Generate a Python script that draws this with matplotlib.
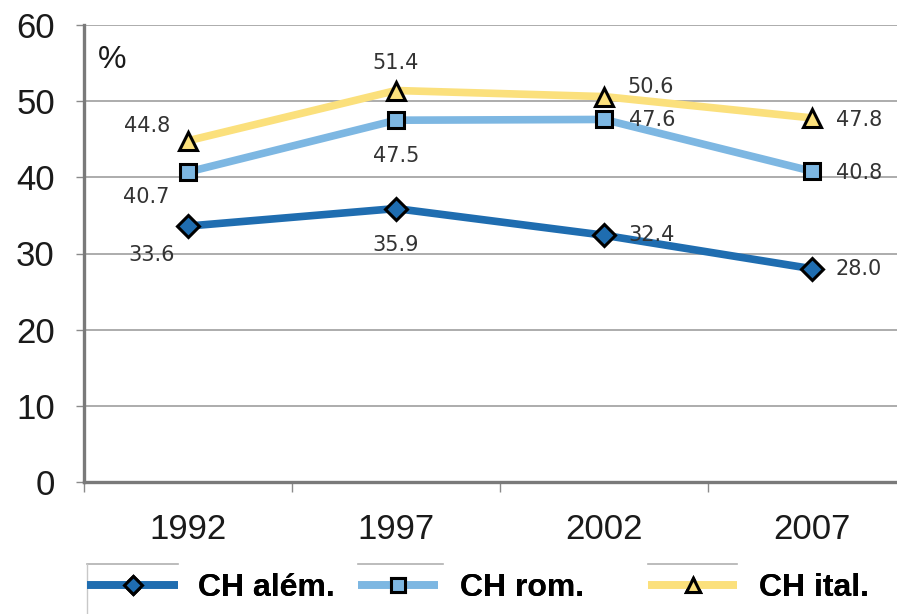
import matplotlib
matplotlib.use("Agg")
import matplotlib.pyplot as plt
from matplotlib.lines import Line2D
import numpy as np

plt.rcParams['font.family'] = ['Liberation Sans', 'DejaVu Sans']

# data
years = ['1992', '1997', '2002', '2007']
alem = [33.6, 35.9, 32.4, 28.0]
rom = [40.7, 47.5, 47.6, 40.8]
ital = [44.8, 51.4, 50.6, 47.8]
labels = ['CH além.', 'CH rom.', 'CH ital.']

# label offsets in pixels (dx, dy up) for each point
off_alem = [(-36, -29), (0, -36), (48, 0), (47, 0)]
off_rom = [(-42, -25), (0, -36), (48, -1), (47, -2)]
off_ital = [(-41, 15), (0, 28), (47, 10), (47, -2)]

col_alem = '#1f6db0'
col_rom = '#7db7e2'
col_ital = '#fbe07c'

W, H = 897, 614
fig = plt.figure(figsize=(W / 100, H / 100), dpi=100)
ax = fig.add_axes([84 / W, 1 - 482 / H, 832 / W, 457 / H])

x = np.arange(len(years))
series = [
    (alem, col_alem, 'D', 11, off_alem),
    (rom, col_rom, 's', 11.5, off_rom),
    (ital, col_ital, '^', 12.5, off_ital),
]
handles = []
for (vals, col, mk, ms, offs), lab in zip(series, labels):
    h, = ax.plot(x, vals, color=col, lw=5.5, marker=mk, ms=ms,
                 mfc=col, mec='black', mew=2.2, zorder=3,
                 solid_capstyle='butt', label=lab)
    handles.append(h)
    for xi, v, (dx, dy) in zip(x, vals, offs):
        ax.annotate(f'{v:.1f}', (xi, v), xytext=(dx * 0.72, dy * 0.72),
                    textcoords='offset points', ha='center', va='center',
                    fontsize=15, color='#333333', family='DejaVu Sans',
                    zorder=4)

ax.set_xlim(-0.5, 3.5)
ax.set_ylim(0, 60)
ax.set_yticks(np.arange(0, 61, 10))
ax.set_xticks(x)
ax.set_xticklabels(years)
ax.set_xticks(np.arange(-0.5, 4, 1), minor=True)
ax.grid(axis='y', color='#a6a6a6', lw=1.3, zorder=0)
for s in ['top', 'right']:
    ax.spines[s].set_visible(False)
for s in ['left', 'bottom']:
    ax.spines[s].set_color('#7a7a7a')
    ax.spines[s].set_linewidth(2.4)
ax.tick_params(axis='y', length=6, width=1, color='#8a8a8a', pad=15,
               labelsize=25, labelcolor='#1a1a1a')
ax.tick_params(axis='x', which='major', length=0, pad=22,
               labelsize=25, labelcolor='#1a1a1a')
ax.tick_params(axis='x', which='minor', length=7, width=1, color='#8a8a8a')

fig.text(98 / W, 1 - 60 / H, '%', fontsize=23, color='#1a1a1a',
         ha='left', va='center')

# legend, three separate boxes
leg_pos = [(87, 588, 2.85, 0.63), (358, 588, 2.5, 0.69), (648, 588, 2.8, 0.66)]
line_pos = [(87, 178), (358, 443), (648, 737)]
for h, lab, (lx, ly, hl, hp) in zip(handles, labels, leg_pos):
    lg = fig.legend([h], [lab], loc='center left',
                    bbox_to_anchor=(lx / W, 1 - ly / H), frameon=False,
                    borderpad=0, borderaxespad=0, handlelength=hl,
                    handletextpad=hp, markerscale=0.85,
                    prop={'weight': 'bold', 'size': 23})
    fig.add_artist(lg)
for x0, x1 in line_pos:
    fig.add_artist(Line2D([x0 / W, x1 / W], [1 - 564 / H, 1 - 564 / H],
                          color='#b0b0b0', lw=1.2))
fig.add_artist(Line2D([87 / W, 87 / W], [1 - 564 / H, 0], color='#c8c8c8', lw=1))

fig.savefig('out.png', dpi=100)
